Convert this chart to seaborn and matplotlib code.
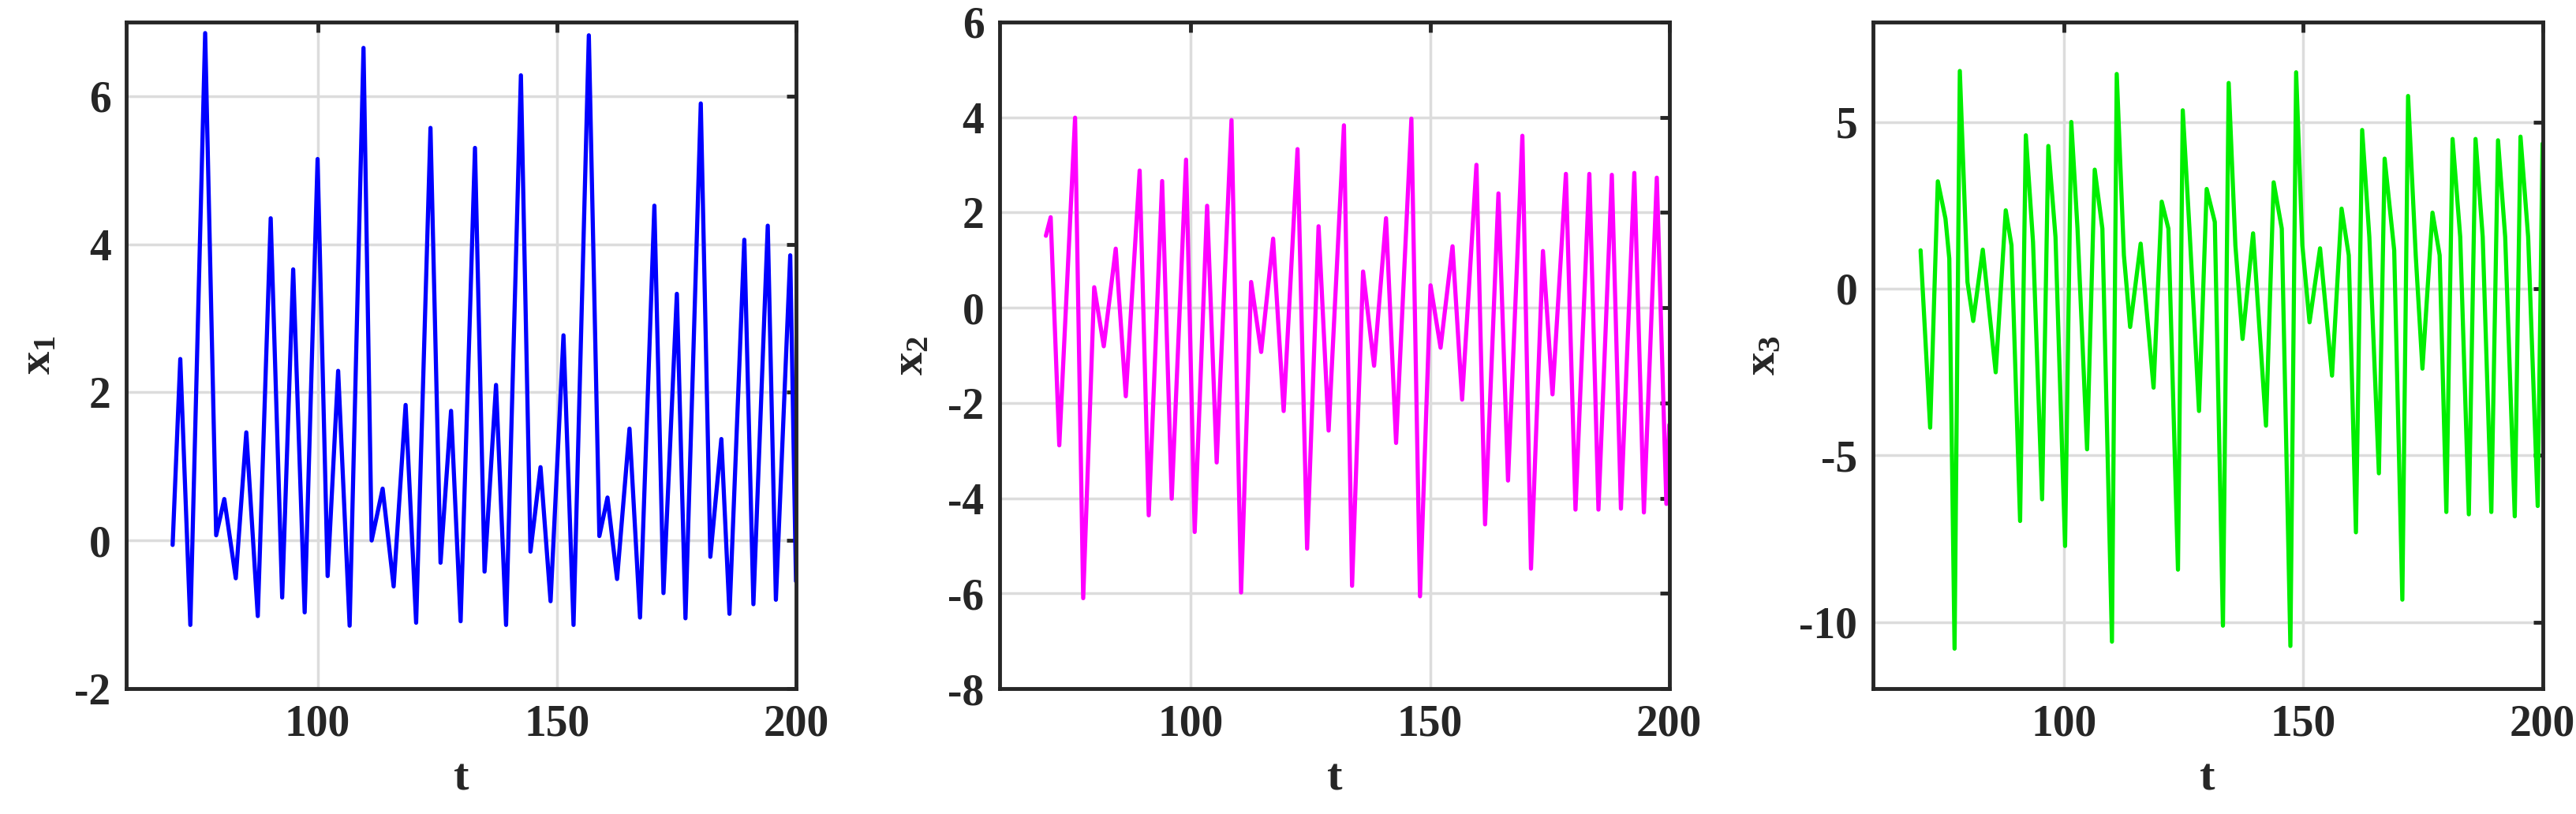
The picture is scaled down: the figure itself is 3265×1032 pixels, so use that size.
import numpy as np
import pandas as pd
import matplotlib
matplotlib.use("Agg")
import matplotlib.pyplot as plt
import seaborn as sns

# x1 extrema (t, value)
t1 = [69.7, 71.3, 73.4, 76.5, 78.8, 80.5, 82.9, 85.1, 87.5, 90.2, 92.6, 94.9, 97.3, 100.0, 102.1,
      104.3, 106.7, 109.6, 111.3, 113.6, 115.9, 118.4, 120.6, 123.6, 125.7, 127.9, 129.9, 132.9,
      134.9, 137.3, 139.4, 142.5, 144.5, 146.6, 148.7, 151.4, 153.5, 156.7, 158.9, 160.6, 162.6,
      165.2, 167.4, 170.4, 172.3, 175.1, 176.9, 180.1, 182.1, 184.4, 186.1, 189.2, 191.1, 194.1,
      195.8, 198.8, 200.0]
x1 = [-0.06, 2.45, -1.14, 6.85, 0.07, 0.56, -0.51, 1.46, -1.02, 4.35, -0.77, 3.66, -0.97, 5.15, -0.48,
      2.29, -1.15, 6.65, 0.0, 0.70, -0.62, 1.83, -1.11, 5.57, -0.30, 1.75, -1.09, 5.30,
      -0.42, 2.10, -1.14, 6.28, -0.15, 0.99, -0.82, 2.77, -1.14, 6.82, 0.06, 0.58, -0.52,
      1.51, -1.04, 4.52, -0.71, 3.33, -1.05, 5.90, -0.22, 1.37, -0.99, 4.06, -0.86, 4.25,
      -0.80, 3.85, -0.55]

# x2 extrema
t2 = [69.7, 70.7, 72.5, 75.8, 77.5, 79.8, 81.8, 84.3, 86.4, 89.3, 91.2, 94.0, 96.0, 99.0, 100.8,
      103.4, 105.4, 108.5, 110.5, 112.6, 114.7, 117.2, 119.4, 122.3, 124.3, 126.7, 128.8, 132.0,
      133.7, 136.0, 138.3, 140.8, 142.9, 146.1, 147.9, 150.1, 152.2, 154.7, 156.7, 159.7, 161.5,
      164.3, 166.3, 169.3, 171.1, 173.6, 175.6, 178.4, 180.4, 183.3, 185.2, 188.0, 189.9, 192.7,
      194.7, 197.4, 199.4, 200.0]
x2 = [1.51, 1.90, -2.89, 3.99, -6.10, 0.43, -0.81, 1.24, -1.86, 2.88, -4.36, 2.66, -4.01, 3.11, -4.71,
      2.14, -3.25, 3.94, -5.98, 0.54, -0.93, 1.45, -2.17, 3.33, -5.06, 1.71, -2.58, 3.83,
      -5.84, 0.76, -1.22, 1.88, -2.84, 3.97, -6.06, 0.47, -0.84, 1.29, -1.93, 3.00, -4.55,
      2.40, -3.63, 3.61, -5.48, 1.19, -1.82, 2.81, -4.24, 2.81, -4.24, 2.79, -4.22, 2.83,
      -4.30, 2.73, -4.12, -2.46]

# x3 extrema and shoulders
t3 = [70.0, 72.0, 73.6, 75.2, 76.0, 77.1, 78.2, 79.8, 81.0, 83.0, 85.7, 87.8, 89.0, 90.8, 92.0,
      93.5, 95.4, 96.7, 98.2, 100.2, 101.5, 102.8, 104.8, 106.4, 108.0, 110.0, 111.0, 112.5,
      113.8, 116.0, 118.7, 120.4, 121.8, 123.8, 124.8, 126.2, 128.2, 129.8, 131.5, 133.2, 134.4,
      135.8, 137.3, 139.5, 142.2, 143.8, 145.5, 147.3, 148.5, 149.8, 151.3, 153.5, 156.0, 158.0,
      159.5, 161.0, 162.3, 163.8, 165.8, 167.0, 169.0, 170.7, 171.9, 173.5, 174.9, 177.0, 178.5,
      179.9, 181.2, 182.8, 184.6, 186.0, 187.5, 189.3, 190.7, 192.2, 194.2, 195.4, 197.0, 199.0,
      200.0]
x3 = [1.15, -4.17, 3.22, 2.1, 0.9, -10.8, 6.53, 0.2, -0.97, 1.17, -2.51, 2.35, 1.3, -6.97, 4.60,
      1.4, -6.32, 4.28, 1.55, -7.72, 5.0, 1.8, -4.82, 3.57, 1.8, -10.59, 6.44, 1.0,
      -1.15, 1.35, -2.97, 2.61, 1.8, -8.43, 5.35, 1.8, -3.67, 2.99, 2.0, -10.11, 6.17,
      1.3, -1.51, 1.66, -4.11, 3.19, 1.8, -10.72, 6.49, 1.3, -1.01, 1.21, -2.61, 2.40,
      1.0, -7.31, 4.76, 1.55, -5.54, 3.90, 1.15, -9.33, 5.78, 1.0, -2.40, 2.28, 1.0,
      -6.70, 4.49, 1.55, -6.77, 4.49, 1.55, -6.70, 4.45, 1.55, -6.83, 4.56, 1.55, -6.52,
      4.35]

series = [(t1, x1, "#0000ff", "x$_\\mathbf{1}$", (-2, 7), [-2, 0, 2, 4, 6]),
          (t2, x2, "#ff00ff", "x$_\\mathbf{2}$", (-8, 6), [-8, -6, -4, -2, 0, 2, 4, 6]),
          (t3, x3, "#00ee00", "x$_\\mathbf{3}$", (-12, 8), [-10, -5, 0, 5])]

sns.set_theme(style="white")
plt.rcParams['font.family'] = ['Liberation Serif', 'DejaVu Serif']
plt.rcParams['font.weight'] = 'bold'
plt.rcParams['axes.unicode_minus'] = False
plt.rcParams['mathtext.fontset'] = 'custom'
plt.rcParams['mathtext.rm'] = 'Liberation Serif:bold'
plt.rcParams['mathtext.bf'] = 'Liberation Serif:bold'
plt.rcParams['mathtext.it'] = 'Liberation Serif:bold'

fig = plt.figure(figsize=(32.65, 10.32), dpi=100)
lefts = [0.049, 0.388, 0.727]
for (t, v, c, lab, yl, yt), l in zip(series, lefts):
    ax = fig.add_axes([l, 0.154, 0.260, 0.819])
    df = pd.DataFrame({"t": t, "v": v})
    sns.lineplot(data=df, x="t", y="v", ax=ax, color=c, linewidth=3.8, estimator=None, sort=False)
    ax.set_xlim(60, 200)
    ax.set_ylim(*yl)
    ax.set_xticks([100, 150, 200])
    ax.set_yticks(yt)
    ax.grid(True, color="#dcdcdc", linewidth=2.5)
    for s in ax.spines.values():
        s.set_linewidth(3.5)
        s.set_color("#262626")
    ax.tick_params(axis="both", labelsize=40, direction="in", length=9, width=3.5, colors="#262626",
                   top=True, right=True, pad=14)
    for tl in ax.get_xticklabels() + ax.get_yticklabels():
        tl.set_fontweight("bold")
    ax.set_xlabel("t", fontsize=42, fontweight="bold", color="#262626", labelpad=12)
    ax.set_ylabel(lab, fontsize=42, fontweight="bold", color="#262626", labelpad=14)

fig.savefig("out.png", dpi=100)
